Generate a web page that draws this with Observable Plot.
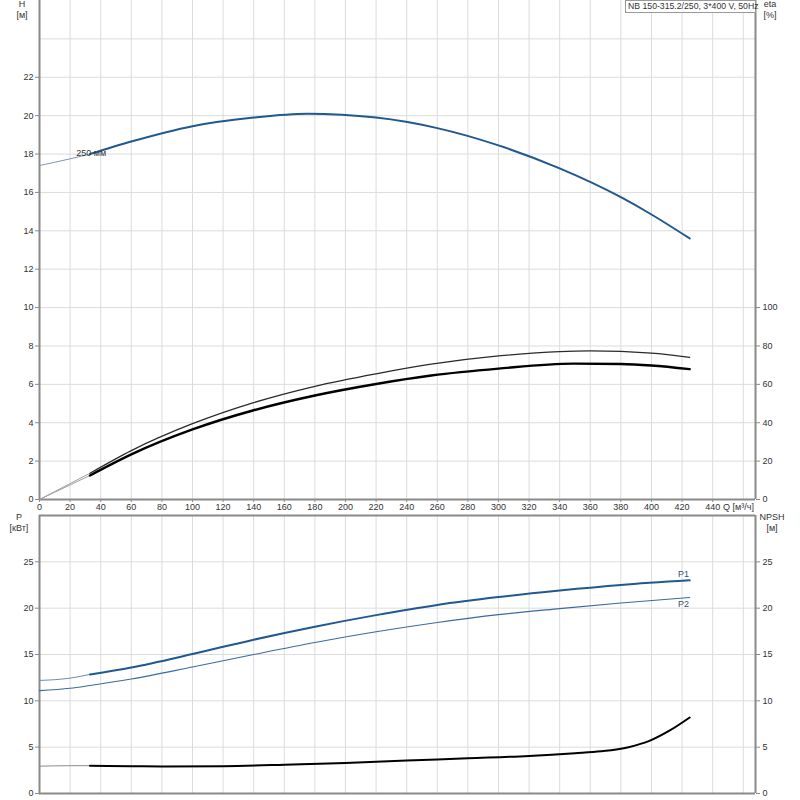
<!DOCTYPE html>
<html><head><meta charset="utf-8">
<script src="https://cdn.jsdelivr.net/npm/d3@7"></script>
<script src="https://cdn.jsdelivr.net/npm/@observablehq/plot@0.6"></script>
<style>
body{margin:0;background:#fff;}
#wrap{position:relative;width:800px;height:800px;font-family:'Liberation Sans',Arial,sans-serif;color:#333;font-size:9px;}
.lbl{position:absolute;text-align:center;line-height:11px;font-size:9px;color:#333;}
#title{position:absolute;left:625px;top:0;width:127px;height:11px;border:1px solid #999;background:#fff;font-size:8.7px;line-height:11px;padding-left:2px;white-space:nowrap;z-index:2;}
.plot{position:absolute;left:0;}
</style></head>
<body><div id="wrap"></div>
<script>
// ---- data ----
const TITLE = "NB 150-315.2/250, 3*400 V, 50Hz";
const DIAM_LABEL = "250 мм";
const Q_TICKS = d3.range(0, 441, 20);
const H_TICKS = d3.range(0, 23, 2);
const ETA_TICKS = [0, 20, 40, 60, 80, 100];
const P_TICKS = [0, 5, 10, 15, 20, 25];

const Q_H = [0, 20, 33, 60, 100, 140, 175, 220, 260, 300, 340, 380, 400, 425];
const H_VAL = [17.4, 17.75, 18.0, 18.65, 19.45, 19.9, 20.1, 19.9, 19.35, 18.45, 17.25, 15.75, 14.85, 13.6];

const Q_ETA1 = [0, 20, 33, 60, 100, 140, 180, 220, 256, 300, 340, 360, 400, 425];
const ETA1 = [0, 8.3, 13.7, 25.5, 39.5, 50.5, 59, 65.5, 70.5, 74.8, 77.1, 77.4, 76.3, 74.1];
const Q_ETA2 = [0, 20, 33, 60, 100, 140, 180, 220, 256, 300, 349, 380, 400, 425];
const ETA2 = [0, 7.6, 12.5, 23.5, 36.5, 46.5, 54.2, 60.2, 64.6, 68.2, 70.8, 70.6, 69.8, 67.9];

const Q_P = [0, 20, 33, 60, 100, 140, 180, 220, 260, 300, 340, 380, 425];
const P1 = [12.2, 12.45, 12.85, 13.6, 15.05, 16.6, 18.0, 19.25, 20.35, 21.2, 21.9, 22.5, 23.0];
const P2 = [11.1, 11.35, 11.65, 12.35, 13.65, 15.0, 16.3, 17.45, 18.45, 19.3, 19.95, 20.55, 21.15];

const Q_NPSH = [0, 20, 33, 60, 80, 120, 160, 200, 240, 280, 320, 350, 367, 385, 399, 412, 425];
const NPSH = [2.95, 3.0, 3.0, 2.95, 2.92, 2.95, 3.1, 3.3, 3.55, 3.8, 4.05, 4.35, 4.56, 5.0, 5.7, 6.8, 8.2];

const Q_START = 33;
const Q_MAX = 468;

// ---- helpers ----
const zip = (qs, vs) => qs.map((q, i) => ({q, v: vs[i]}));
const head = (a) => a.filter(d => d.q <= Q_START);
const tail = (a) => a.filter(d => d.q >= Q_START);

const hData = zip(Q_H, H_VAL);
const e1 = zip(Q_ETA1, ETA1), e2 = zip(Q_ETA2, ETA2);
const p1 = zip(Q_P, P1), p2 = zip(Q_P, P2), np = zip(Q_NPSH, NPSH);

const style = {fontFamily: "'Liberation Sans',Arial,sans-serif", fontSize: "9px", color: "#333", background: "transparent", overflow: "visible"};
const curve = "monotone-x";
const gridC = "#dcdcdc", axC = "#8a8a8a";

const wrap = document.getElementById("wrap");

const topPlot = Plot.plot({
  width: 800, height: 515, marginLeft: 39, marginRight: 45, marginTop: 0, marginBottom: 16,
  style,
  x: {domain: [0, Q_MAX], axis: null},
  y: {domain: [0, 26], axis: null},
  marks: [
    Plot.gridX(d3.range(20, 461, 20), {stroke: gridC, strokeOpacity: 1}),
    Plot.gridY(d3.range(2, 25, 2), {stroke: gridC, strokeOpacity: 1}),
    Plot.ruleX([0, Q_MAX], {stroke: axC, strokeWidth: 2}),
    Plot.ruleY([0], {stroke: axC, strokeWidth: 2}),
    // H
    Plot.line(head(hData), {x: "q", y: "v", stroke: "#7f95b8", strokeWidth: 1, curve}),
    Plot.line(tail(hData), {x: "q", y: "v", stroke: "#21588f", strokeWidth: 2, curve}),
    // eta (right axis, 10% per H unit)
    Plot.line(head(e1), {x: "q", y: d => d.v / 10, stroke: "#a0a0a0", strokeWidth: 1, curve}),
    Plot.line(head(e2), {x: "q", y: d => d.v / 10, stroke: "#a0a0a0", strokeWidth: 1, curve}),
    Plot.line(tail(e1), {x: "q", y: d => d.v / 10, stroke: "#2a2a2a", strokeWidth: 1.3, curve}),
    Plot.line(tail(e2), {x: "q", y: d => d.v / 10, stroke: "#000", strokeWidth: 2.4, curve}),
    Plot.text([DIAM_LABEL], {x: 24, y: 18.05, text: d => d, textAnchor: "start", fontSize: 9, fill: "#333"}),
    Plot.axisX(Q_TICKS, {tickSize: 3, tickPadding: 1, fontSize: 9, label: null, stroke: axC}),
    Plot.axisY(H_TICKS, {anchor: "left", tickSize: 4, tickPadding: 2, label: null, stroke: axC}),
    Plot.axisY(ETA_TICKS.map(d => d / 10), {anchor: "right", tickSize: 4, tickPadding: 3, tickFormat: d => Math.round(d * 10), label: null, stroke: axC})
  ]
});
topPlot.classList.add("plot");
topPlot.style.top = "0px";
wrap.appendChild(topPlot);

const botPlot = Plot.plot({
  width: 800, height: 285, marginLeft: 39, marginRight: 45, marginTop: 0, marginBottom: 7,
  style,
  x: {domain: [0, Q_MAX], axis: null},
  y: {domain: [0, 30], axis: null},
  marks: [
    Plot.gridX(d3.range(20, 461, 20), {stroke: gridC, strokeOpacity: 1}),
    Plot.gridY(d3.range(5, 26, 5), {stroke: gridC, strokeOpacity: 1}),
    Plot.ruleX([0, Q_MAX], {stroke: axC, strokeWidth: 2}),
    Plot.ruleY([0, 30], {stroke: axC, strokeWidth: 2}),
    Plot.line(head(p1), {x: "q", y: "v", stroke: "#6f8bb3", strokeWidth: 1, curve}),
    Plot.line(tail(p1), {x: "q", y: "v", stroke: "#21588f", strokeWidth: 2, curve}),
    Plot.line(p2, {x: "q", y: "v", stroke: "#3a6aa0", strokeWidth: 1.1, curve}),
    Plot.line(head(np), {x: "q", y: "v", stroke: "#8c8c8c", strokeWidth: 1, curve}),
    Plot.line(tail(np), {x: "q", y: "v", stroke: "#000", strokeWidth: 2, curve}),
    Plot.text(["P1"], {x: 421, y: 23.7, text: d => d, fontSize: 9, fill: "#3a4f70"}),
    Plot.text(["P2"], {x: 421, y: 20.4, text: d => d, fontSize: 9, fill: "#3a4f70"}),
    Plot.axisY(P_TICKS, {anchor: "left", tickSize: 4, tickPadding: 2, label: null, stroke: axC}),
    Plot.axisY(P_TICKS, {anchor: "right", tickSize: 4, tickPadding: 3, label: null, stroke: axC})
  ]
});
botPlot.classList.add("plot");
botPlot.style.top = "515px";
wrap.appendChild(botPlot);

// text labels
function lbl(html, x, y, w, align) {
  const d = document.createElement("div");
  d.className = "lbl";
  d.innerHTML = html;
  d.style.left = x + "px"; d.style.top = y + "px"; d.style.width = w + "px";
  if (align) d.style.textAlign = align;
  wrap.appendChild(d);
}
lbl("H<br>[м]", 7, -1, 30);
lbl("eta<br>[%]", 757, -1, 26);
lbl("P<br>[кВт]", 3, 512, 32);
lbl("NPSH<br>[м]", 755, 512, 34);
lbl("Q [м³/ч]", 723, 502, 40, "left");
const t = document.createElement("div");
t.id = "title"; t.textContent = TITLE;
wrap.appendChild(t);
</script></body></html>
